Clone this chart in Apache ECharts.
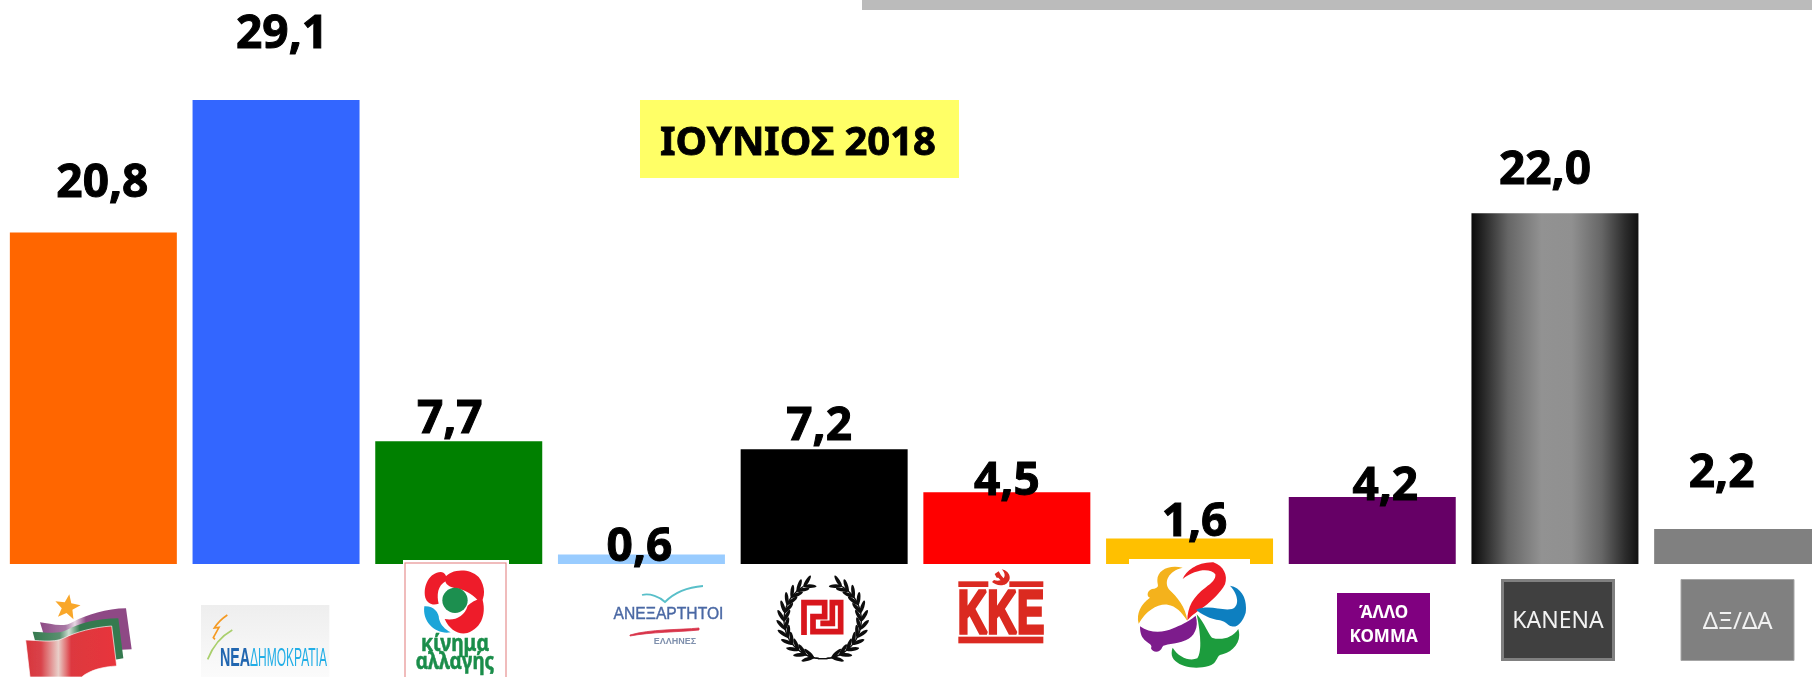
<!DOCTYPE html>
<html><head><meta charset="utf-8">
<style>html,body{margin:0;padding:0;background:#fff;overflow:hidden;width:1812px;height:677px}#c{width:1830px;height:677px}</style>
<script src="https://cdn.jsdelivr.net/npm/echarts@6/dist/echarts.min.js"></script>
</head><body><div id="c"></div>
<script>
// ---- data ----
const categories = ['ΣΥΡΙΖΑ','ΝΕΑ ΔΗΜΟΚΡΑΤΙΑ','ΚΙΝΗΜΑ ΑΛΛΑΓΗΣ','ΑΝΕΞΑΡΤΗΤΟΙ ΕΛΛΗΝΕΣ','ΧΡΥΣΗ ΑΥΓΗ','ΚΚΕ','ΕΝΩΣΗ ΚΕΝΤΡΩΩΝ','ΑΛΛΟ ΚΟΜΜΑ','ΚΑΝΕΝΑ','ΔΞ/ΔΑ'];
const values = [20.8, 29.1, 7.7, 0.6, 7.2, 4.5, 1.6, 4.2, 22.0, 2.2];
const barColors = ['#FF6600','#3366FF','#008000','#99CCFF','#000000','#FF0000','#FFC000','#660066','gradient','#808080'];
const labelOffsets = [[9,-26],[6,-43],[-9,1],[-2,15],[-5,0],[0,12],[5,6],[13,12],[-10,-20],[-16,-33]];
const periodLabel = 'ΙΟΥΝΙΟΣ 2018';

// ---- logo helpers ----
function svgImg(x,y,w,h,vb,body,blur){
  const f = blur ? `<defs><filter id="b" x="-10%" y="-10%" width="120%" height="120%"><feGaussianBlur stdDeviation="${blur}"/></filter></defs>` : '';
  const svg = `<svg xmlns="http://www.w3.org/2000/svg" width="${w}" height="${h}" viewBox="${vb}">${f}<g ${blur?'filter="url(#b)"':''}>${body}</g></svg>`;
  return {type:'image',z:10,style:{image:'data:image/svg+xml;charset=utf-8,'+encodeURIComponent(svg),x,y,width:w,height:h}};
}
function rect(x,y,w,h,fill,stroke,lw){
  return {type:'rect',z:9,shape:{x,y,width:w,height:h},style:{fill,stroke:stroke||null,lineWidth:lw||0}};
}
function txt(text,x,y,font,fill,opts){
  opts=opts||{};
  const e={type:'text',z:12,x,y,scaleX:opts.sx||1,style:{text,x:0,y:0,font,fill,textAlign:opts.align||'center',textVerticalAlign:'middle',textBaseline:'middle'}};
  if(opts.stroke){e.style.stroke=opts.stroke;e.style.lineWidth=opts.lw||1;}
  return e;
}
function star(cx,cy,R,r){
  let p=[];for(let i=0;i<10;i++){const a=-Math.PI/2+i*Math.PI/5+0.15,q=i%2?r:R;p.push((cx+q*Math.cos(a)).toFixed(1)+','+(cy+q*Math.sin(a)).toFixed(1));}
  return p.join(' ');
}
function wreathBranch(){
  const cx=158,cy=150,r=116;let s='';let pts=[];
  for(let t=-36;t<=152;t+=6){const a=t*Math.PI/180;pts.push((cx-r*Math.sin(a)).toFixed(1)+','+(cy+r*Math.cos(a)).toFixed(1));}
  s+=`<polyline points="${pts.join(' ')}" fill="none" stroke="#111" stroke-width="4"/>`;
  for(let t=14;t<=152;t+=12.5){
    const a=t*Math.PI/180,x=cx-r*Math.sin(a),y=cy+r*Math.cos(a);
    const ang=Math.atan2(-Math.sin(a),-Math.cos(a))*180/Math.PI;
    s+=`<ellipse transform="translate(${x.toFixed(1)} ${y.toFixed(1)}) rotate(${(ang+30).toFixed(1)}) translate(17 0)" rx="20" ry="5.5" fill="#111"/>`;
    s+=`<ellipse transform="translate(${x.toFixed(1)} ${y.toFixed(1)}) rotate(${(ang-30).toFixed(1)}) translate(17 0)" rx="20" ry="5.5" fill="#111"/>`;
  }
  return s;
}

const logos = [];
// top decorations
logos.push(rect(862,0,950,10,'#BBBBBB'));
logos.push(rect(640,100,319,78,'#FFFF66'));
logos.push(txt(periodLabel,798,144,'bold 40px "Noto Sans"','#000',{stroke:'#000',lw:.8}));

// Syriza
logos.push(svgImg(20,590,120,87,'0 0 360 261',
 `<defs><linearGradient id="r" x1="0" x2="1" y1="0" y2="0"><stop offset="0" stop-color="#d8353c"/><stop offset=".17" stop-color="#d9434a"/><stop offset=".36" stop-color="#e9cfc9"/><stop offset=".5" stop-color="#dd383f"/><stop offset="1" stop-color="#e8353b"/></linearGradient>
 <linearGradient id="p" x1="0" x2="1" y1="0" y2="0"><stop offset="0" stop-color="#8e4a85"/><stop offset=".28" stop-color="#a878a4"/><stop offset=".38" stop-color="#e8d8e4"/><stop offset=".5" stop-color="#8e4a85"/><stop offset="1" stop-color="#8e4a85"/></linearGradient>
 <linearGradient id="g" x1="0" x2="1" y1="0" y2="0"><stop offset="0" stop-color="#357a4f"/><stop offset=".3" stop-color="#5a9070"/><stop offset=".4" stop-color="#cfe0d4"/><stop offset=".52" stop-color="#357a4f"/><stop offset="1" stop-color="#357a4f"/></linearGradient></defs>
 <polygon points="${star(142,52,40,17)}" fill="#f9a72b"/>
 <path d="M60,97 C90,100 130,115 160,95 C200,75 260,55 318,55 L335,178 L290,180 L70,130Z" fill="url(#p)"/>
 <path d="M38,125 C70,125 110,135 140,120 C180,100 230,85 295,85 L310,205 L280,210 L50,170Z" fill="url(#g)"/>
 <path d="M17,150 C50,150 100,160 130,145 C170,125 220,112 275,108 L290,228 C250,230 210,240 185,261 L30,261Z" fill="url(#r)" stroke="#fff" stroke-width="2"/>`,1));

// New Democracy
logos.push(svgImg(195,600,140,77,'0 0 420 231',
 `<defs><linearGradient id="w" x1="0" x2="0" y1="0" y2="1"><stop offset="0" stop-color="#eeeeee"/><stop offset="1" stop-color="#fbfbfb"/></linearGradient></defs>
 <rect x="18" y="15" width="385" height="216" fill="url(#w)"/>
 <path d="M97,45 C82,55 68,68 58,84 L72,82 L55,113 L60,118" fill="none" stroke="#f59a23" stroke-width="5"/>
 <path d="M112,90 C85,105 55,135 38,178" fill="none" stroke="#a9cf6c" stroke-width="5"/>`,1));
logos.push(txt('ΝΕΑ',220,659,'bold 25px "Liberation Sans"','#2166b0',{align:'left',sx:.57}));
logos.push(txt('ΔΗΜΟΚΡΑΤΙΑ',250,659,'25px "Liberation Sans"','#22aee6',{align:'left',sx:.48}));

// KINAL
logos.push(rect(403,560,106,117,'#fff'));
logos.push(svgImg(400,557,115,120,'0 0 345 360',
 `<rect x="15" y="18" width="303" height="360" fill="none" stroke="#e58d8d" stroke-width="3.5"/>
 <path d="M122,45 C90,46 68,85 76,122 C82,140 98,146 116,140 C110,115 112,85 138,72 C144,60 134,45 122,45Z" fill="#ee1f2b"/>
 <path d="M135,62 C150,38 205,30 236,60 C258,88 256,125 240,138 C224,116 198,100 170,94 C150,90 133,84 135,62Z" fill="#ee1f2b"/>
 <path d="M246,122 C260,165 248,212 202,228 C175,234 148,218 134,186 C165,192 194,178 203,146 C212,136 228,128 246,122Z" fill="#ee1f2b"/>
 <path d="M73,148 C100,146 117,166 117,185 C122,205 135,216 152,226 C110,234 66,198 73,148Z" fill="#1aa5d8"/>
 <circle cx="165" cy="130" r="38" fill="#1d8f4f"/>`,.8));
logos.push(txt('κίνημα',455,644,'bold 23px "Noto Sans"','#1a8d4a',{sx:.84,stroke:'#1a8d4a',lw:.5}));
logos.push(txt('αλλαγής',455,662,'bold 23px "Noto Sans"','#1a8d4a',{sx:.82,stroke:'#1a8d4a',lw:.5}));

// ANEL
logos.push(svgImg(600,570,140,80,'600 570 140 80',
 `<path d="M642,595 C650,593 660,597 665,602 C675,592 690,587 703,586" fill="none" stroke="#59bfc9" stroke-width="1.8"/>
 <path d="M630,635 C650,629 680,630 699,628 L699,630 C680,632 650,632 630,636Z" fill="#d8344a" stroke="#d8344a" stroke-width=".8"/>`,.4));
logos.push(txt('ΑΝΕΞΑΡΤΗΤΟΙ',668.5,614,'17px "Liberation Sans"','#4a68a4',{sx:.92,stroke:'#4a68a4',lw:.4}));
logos.push(txt('ΕΛΛΗΝΕΣ',675,642,'bold 9px "Liberation Sans"','#7f90ad'));

// meander + wreath
logos.push(svgImg(770,570,105,107,'0 0 315 321',
 `${wreathBranch()}<g transform="translate(316 0) scale(-1 1)">${wreathBranch()}</g>
 <path d="M102,195 V98 H164 V140 H129 V185 H212 V98 H187 V160 H151" fill="none" stroke="#d8141c" stroke-width="17"/>`,.6));

// KKE
logos.push(svgImg(950,562,100,90,'0 0 300 270',
 `<rect x="25" y="58" width="90" height="17" fill="#db2a20"/><rect x="178" y="58" width="102" height="17" fill="#db2a20"/>
 <rect x="25" y="224" width="255" height="20" fill="#db2a20"/>
 <path d="M155,22 C184,28 188,60 162,68 C148,72 136,68 126,60 L132,54 C148,60 164,52 164,40 C164,32 160,27 155,22Z" fill="#db2a20"/>
 <path d="M134,36 L146,28 L153,40 L172,62 L164,68 L145,47 L140,47Z" fill="#db2a20"/>`,.6));
logos.push(txt('ΚΚΕ',1001,616,'bold 61px "Liberation Sans"','#db2a20',{sx:.67,stroke:'#db2a20',lw:3.5}));

// flower (white panel cuts into the yellow bar)
logos.push(rect(1129,559,121,118,'#fff'));
logos.push(svgImg(1130,557,120,120,'0 0 360 360',
 `<path d="M158,32 C118,22 82,38 82,70 C82,85 90,90 73,95 C52,95 47,117 60,122 C33,140 18,170 26,200 C50,160 82,140 113,143 C138,147 155,165 172,192 C168,150 140,118 118,98 C100,75 115,42 158,32Z" fill="#f4b21a"/>
 <path d="M158,66 C168,42 200,15 250,16 C282,28 294,55 285,82 C272,108 244,132 224,148 C204,163 188,172 172,190 C172,150 190,118 226,92 C246,78 258,66 256,52 C242,34 200,34 158,66Z" fill="#ee1c25"/>
 <path d="M300,86 C338,93 352,130 347,167 C337,197 322,212 305,208 C295,208 290,194 270,190 C240,186 215,172 198,158 C240,142 272,162 306,156 C325,150 330,118 300,86Z" fill="#0f7fc0"/>
 <path d="M200,172 C224,198 235,232 246,242 C270,250 305,246 325,216 C338,260 302,288 270,294 C260,298 260,322 236,327 C200,337 158,332 136,312 C123,302 123,285 128,272 C145,300 178,314 202,304 C216,285 212,228 200,172Z" fill="#1f9c3c"/>
 <path d="M30,208 C60,230 100,228 130,214 C150,204 172,198 197,176 C208,210 192,240 167,250 C135,264 102,260 97,270 C92,288 68,288 63,274 C68,262 58,262 43,248 C33,238 30,225 30,208Z" fill="#7d1a8c"/>`,.7));

// text boxes
logos.push(rect(1337,593,93,61,'#800080'));
logos.push(txt('ΆΛΛΟ',1383.6,613,'bold 17px "Noto Sans"','#fff'));
logos.push(txt('ΚΟΜΜΑ',1383.6,637,'bold 17px "Noto Sans"','#fff'));
logos.push(rect(1502.5,580.5,111,79,'#404040','#808080',3));
logos.push(txt('ΚΑΝΕΝΑ',1558,621,'23px "Noto Sans"','#f2f2f2'));
logos.push(rect(1681,579.5,113,81,'#808080','#a6a6a6',1));
logos.push(txt('ΔΞ/ΔΑ',1737.7,622,'24px "Noto Sans"','#f2f2f2'));

// ---- chart ----
const chart = echarts.init(document.getElementById('c'),null,{renderer:'canvas',width:1830,height:677});
const grey = new echarts.graphic.LinearGradient(0,0,1,0,[
 {offset:0,color:'#0a0a0a'},{offset:.08,color:'#2a2a2a'},{offset:.22,color:'#666'},{offset:.42,color:'#929292'},
 {offset:.6,color:'#909090'},{offset:.78,color:'#666'},{offset:.92,color:'#2c2c2c'},{offset:1,color:'#111'}]);
chart.setOption({
  animation:false,
  backgroundColor:'#fff',
  grid:{left:2,right:1,top:6,bottom:113,containLabel:false},
  xAxis:{type:'category',data:categories,axisLine:{show:false},axisTick:{show:false},axisLabel:{show:false},splitLine:{show:false}},
  yAxis:{type:'value',min:0,max:35,show:false,splitLine:{show:false}},
  series:[{
    type:'bar',barCategoryGap:'8.6%',
    data:values.map((v,i)=>({value:v,
      itemStyle:{color:barColors[i]==='gradient'?grey:barColors[i]},
      label:{offset:labelOffsets[i]}})),
    label:{show:true,position:'top',distance:0,color:'#000',lineHeight:44,
      fontFamily:'"Noto Sans"',fontWeight:'bold',fontSize:46,textBorderColor:'#000',textBorderWidth:1,
      formatter:p=>p.value.toFixed(1).replace('.',',')}
  }],
  graphic:{elements:logos}
});
</script></body></html>
